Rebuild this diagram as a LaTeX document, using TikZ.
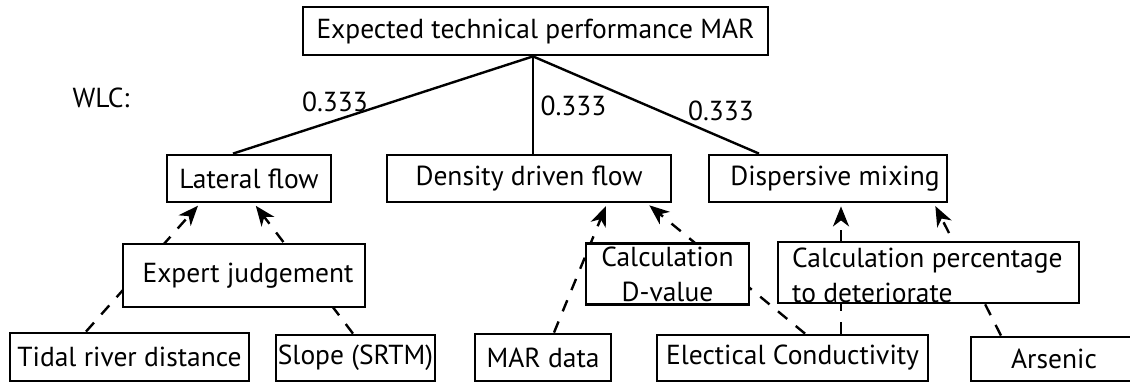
\documentclass[tikz,border=0pt]{standalone}
\usepackage{fontspec}
\setmainfont{PT Sans}
\usetikzlibrary{arrows.meta}

\begin{document}
\begin{tikzpicture}[x=1pt,y=-1pt,
    box/.style={draw,line width=2.8pt,fill=white,inner sep=0pt,
        minimum height=47pt,font=\fontsize{27.5}{35}\selectfont},
    weight/.style={font=\fontsize{27.5}{35}\selectfont},
    tree/.style={line width=2.4pt},
    feed/.style={line width=2.4pt,dash pattern=on 12pt off 11pt,
        -{Stealth[length=20pt,width=16pt,inset=6pt]},shorten >=3pt}]
    \useasboundingbox (0,0) rectangle (1130,383);
    %% goal and criteria
    \node[box,minimum width=465pt,minimum height=48pt] (mar) at (535.5,31) {Expected technical performance MAR};
    \node[box,minimum width=164pt] (lateral) at (249,178.5) {Lateral flow};
    \node[box,minimum width=284pt] (density) at (529,178.5) {Density driven flow};
    \node[box,minimum width=238pt] (dispersive) at (828,178.5) {\hspace*{14pt}Dispersive mixing};
    %% data layers
    \node[box,minimum width=239pt,minimum height=48pt] (tidal) at (129.5,357) {Tidal river distance};
    \node[box,minimum width=159pt,minimum height=46pt] (slope) at (355.5,358) {Slope (SRTM)};
    \node[box,minimum width=136pt] (mardata) at (543,357.5) {MAR data};
    \node[box,minimum width=271pt,minimum height=46pt] (ec) at (792.5,358) {Electical Conductivity};
    \node[box,minimum width=166pt,minimum height=44pt] (arsenic) at (1054,359) {Arsenic};
    % weights
    \node[weight] (wlc) at (101,98) {WLC:};
    \node[weight] (w1) at (335,102) {0.333};
    \node[weight] (w2) at (573.5,106) {0.333};
    \node[weight] (w3) at (721,111) {0.333};
    \draw[tree] ([xshift=-2.5pt]mar.south) -- ([xshift=-16pt]lateral.north);
    \draw[tree] ([xshift=-2.5pt]mar.south) -- ([xshift=4pt]density.north);
    \draw[tree] ([xshift=-2.5pt]mar.south) -- ([xshift=-69pt]dispersive.north);
    % standardisation links
    \draw[feed] ([xshift=-43.5pt]tidal.north) -- ([xshift=-49pt]lateral.south);
    \draw[feed] ([xshift=-2.5pt]slope.north) -- ([xshift=5pt]lateral.south);
    \draw[feed] ([xshift=11pt]mardata.north) -- ([xshift=78pt]density.south);
    \draw[feed] ([xshift=12.5pt]ec.north) -- ([xshift=118pt]density.south);
    \draw[feed] ([xshift=48.5pt]ec.north) -- ([xshift=13pt]dispersive.south);
    \draw[feed] ([xshift=-53pt]arsenic.north) -- ([xshift=106pt]dispersive.south);
    %% methods on top of the links
    \node[box,minimum width=242pt,minimum height=63pt] (expert) at (244,275.5) {\hspace*{8pt}Expert judgement};
    \node[box,minimum width=163pt,minimum height=61pt,align=center] (dvalue) at (667.5,274) {Calculation\\D-value};
    \node[box,minimum width=301pt,minimum height=61pt] (percent) at (928.5,272.5) {};
    \node[weight,align=left,anchor=north west,inner sep=0pt] (percenttxt) at (792,248) {Calculation percentage\\to deteriorate};
\end{tikzpicture}
\end{document}
